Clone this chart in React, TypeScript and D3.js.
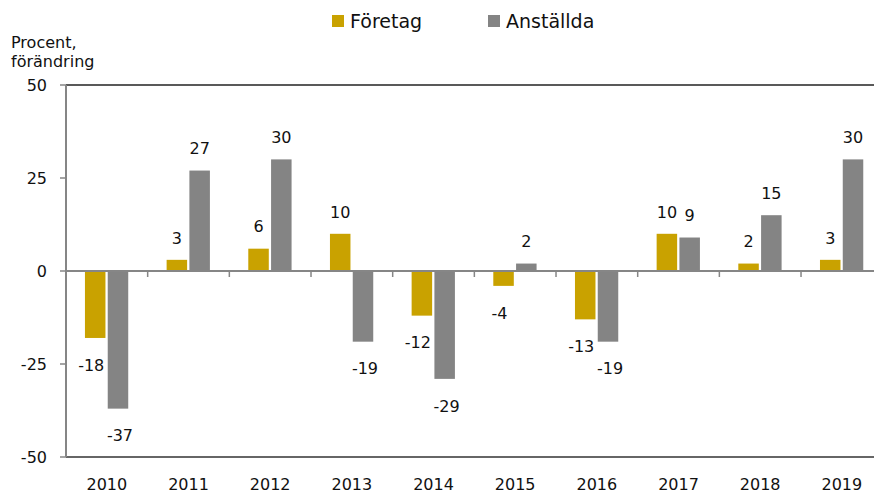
import React from 'react';
import * as d3 from 'd3';

const years = ['2010', '2011', '2012', '2013', '2014', '2015', '2016', '2017', '2018', '2019'];
const foretag = [-18, 3, 6, 10, -12, -4, -13, 10, 2, 3];
const anstallda = [-37, 27, 30, -19, -29, 2, -19, 9, 15, 30];
const seriesNames = ['Företag', 'Anställda'];
const yTicks = [50, 25, 0, -25, -50];

const colors = ['#C9A200', '#848484'];
const font = '"DejaVu Sans", Verdana, sans-serif';

const App = () => {
  const width = 874;
  const height = 497;
  const left = 66;
  const top = 85;
  const bottom = 457;
  // the plot runs a little past the right edge of the picture
  const right = 882.7;

  const x0 = d3.scaleBand<string>().domain(years).range([left, right]).padding(0);
  const bw = x0.bandwidth();
  const x1 = d3
    .scaleBand<string>()
    .domain(seriesNames)
    .range([bw * 0.232, bw * 0.762])
    .paddingInner(0.1);
  const y = d3.scaleLinear().domain([-50, 50]).range([bottom, top]);

  const series = [foretag, anstallda];
  const negShift = [-4, 2];

  return (
    <svg width={width} height={height} style={{ position: 'absolute', left: 0, top: 0 }}>
      <rect width={width} height={height} fill="#fff" />

      {/* legend */}
      {seriesNames.map((name, i) => {
        const lx = i === 0 ? 332 : 488;
        return (
          <g key={name}>
            <rect x={lx} y={15} width={12} height={12} fill={colors[i]} />
            <text x={lx + 18} y={28} fontFamily={font} fontSize={19} fill="#111">
              {name}
            </text>
          </g>
        );
      })}

      {/* y title */}
      <text x={11} y={48} fontFamily={font} fontSize={16} fill="#111">Procent,</text>
      <text x={11} y={67} fontFamily={font} fontSize={16} fill="#111">förändring</text>

      {/* plot border top/bottom */}
      <line x1={left} x2={width} y1={top} y2={top} stroke="#222" strokeWidth={1.5} />
      <line x1={left} x2={width} y1={bottom} y2={bottom} stroke="#333" strokeWidth={1.5} />

      {/* bars */}
      {years.map((yr, i) =>
        series.map((vals, s) => {
          const v = vals[i];
          const bx = (x0(yr) as number) + (x1(seriesNames[s]) as number);
          return (
            <rect
              key={yr + s}
              x={bx}
              width={x1.bandwidth()}
              y={y(Math.max(0, v))}
              height={Math.abs(y(v) - y(0))}
              fill={colors[s]}
            />
          );
        })
      )}

      {/* zero line and ticks */}
      <line x1={left} x2={width} y1={y(0)} y2={y(0)} stroke="#868686" strokeWidth={2} />
      {years.slice(1).map((yr) => (
        <line
          key={'t' + yr}
          x1={x0(yr) as number}
          x2={x0(yr) as number}
          y1={y(0)}
          y2={y(0) + 6}
          stroke="#868686"
          strokeWidth={1.5}
        />
      ))}

      {/* y axis */}
      <line x1={left} x2={left} y1={top} y2={bottom} stroke="#868686" strokeWidth={2} />
      {yTicks.map((t) => (
        <g key={'y' + t}>
          <line x1={left - 6} x2={left} y1={y(t)} y2={y(t)} stroke="#868686" strokeWidth={1.5} />
          <text
            x={47}
            y={y(t)}
            dy="0.36em"
            textAnchor="end"
            fontFamily={font}
            fontSize={16}
            fill="#111"
          >
            {t}
          </text>
        </g>
      ))}

      {/* x labels */}
      {years.map((yr) => (
        <text
          key={'x' + yr}
          x={(x0(yr) as number) + bw / 2}
          y={490}
          textAnchor="middle"
          fontFamily={font}
          fontSize={16}
          fill="#111"
        >
          {yr}
        </text>
      ))}

      {/* value labels */}
      {years.map((yr, i) =>
        series.map((vals, s) => {
          const v = vals[i];
          const cx = (x0(yr) as number) + (x1(seriesNames[s]) as number) + x1.bandwidth() / 2;
          const ly = v >= 0 ? y(v) - 22 : y(v) + 27;
          return (
            <text
              key={'l' + yr + s}
              x={cx + (v < 0 ? negShift[s] : 0)}
              y={ly}
              dy="0.36em"
              textAnchor="middle"
              fontFamily={font}
              fontSize={16}
              fill="#111"
            >
              {v}
            </text>
          );
        })
      )}
    </svg>
  );
};

export default App;
